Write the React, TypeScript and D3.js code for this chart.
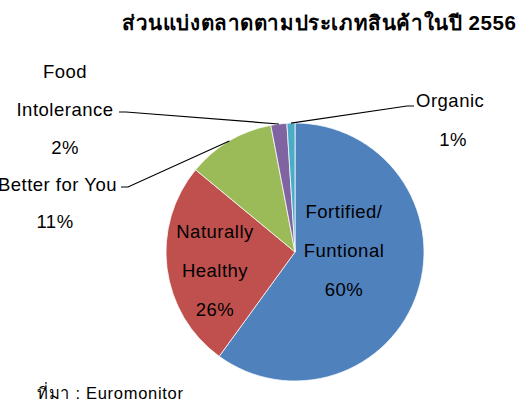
import React from "react";
import * as d3 from "d3";

const categories = ["Fortified/Funtional", "Naturally Healthy", "Better for You", "Food Intolerance", "Organic"];
const values = [60, 26, 11, 2, 1];
const colors = ["#4F81BD", "#C0504D", "#9BBB59", "#8064A2", "#4BACC6"];
const title = "ส่วนแบ่งตลาดตามประเภทสินค้าในปี 2556";
const source = "ที่มา : Euromonitor";

const W = 525, H = 406;
const cx = 295, cy = 252, R = 129;
const font = "'Liberation Sans', Arial, sans-serif";

export default function App() {
  const pie = d3.pie<number>().sort(null).value((d) => d)(values);
  const arc = d3.arc<d3.PieArcDatum<number>>().innerRadius(0).outerRadius(R);
  const edge = (a: d3.PieArcDatum<number>) => {
    const m = (a.startAngle + a.endAngle) / 2;
    return [cx + R * Math.sin(m), cy - R * Math.cos(m)];
  };
  const pct = (v: number) => d3.format(".0%")(v / d3.sum(values));
  const fs = 18.5;
  const lines: { text: string; x: number; y: number; anchor?: string }[] = [
    { text: "Fortified/", x: 344, y: 211 },
    { text: "Funtional", x: 344, y: 250 },
    { text: pct(values[0]), x: 344, y: 289 },
    { text: "Naturally", x: 215, y: 231 },
    { text: "Healthy", x: 215, y: 270 },
    { text: pct(values[1]), x: 215, y: 309 },
    { text: "Better for You", x: 117, y: 184, anchor: "end" },
    { text: pct(values[2]), x: 55, y: 221 },
    { text: "Food", x: 65, y: 71 },
    { text: "Intolerance", x: 65, y: 109 },
    { text: pct(values[3]), x: 65, y: 147 },
    { text: "Organic", x: 416, y: 100, anchor: "start" },
    { text: pct(values[4]), x: 453, y: 139 },
  ];
  const eBfy = edge(pie[2]);
  const eFi = edge(pie[3]);
  const eOr = edge(pie[4]);
  return (
    <svg width={W} height={H} style={{ position: "absolute", left: 0, top: 0 }}>
      <rect width={W} height={H} fill="#fff" />
      <text x={122} y={30} textLength={394} lengthAdjust="spacing" fontFamily={font} fontWeight="bold" fontSize={20.5} fill="#000">
        {title}
      </text>
      <g transform={`translate(${cx},${cy})`}>
        {pie.map((p, i) => (
          <path key={categories[i]} d={arc(p) || ""} fill={colors[i]} stroke="#fff" strokeWidth={0.75} />
        ))}
      </g>
      <polyline points={`119,112 126,112 ${eFi[0]},${eFi[1]}`} fill="none" stroke="#000" strokeWidth={1.2} />
      <polyline points={`121,187 128,187 ${eBfy[0]},${eBfy[1]}`} fill="none" stroke="#000" strokeWidth={1.2} />
      <polyline points={`${eOr[0]},${eOr[1]} 407,106 414,106`} fill="none" stroke="#000" strokeWidth={1.2} />
      {lines.map((l, i) => (
        <text key={i} x={l.x} y={l.y} textAnchor={l.anchor || "middle"} dominantBaseline="central" fontFamily={font} fontSize={fs} letterSpacing={0.5} fill="#000">
          {l.text}
        </text>
      ))}
      <text x={37} y={399} textLength={146} lengthAdjust="spacing" fontFamily={font} fontSize={16.5} fill="#000">
        {source}
      </text>
    </svg>
  );
}
